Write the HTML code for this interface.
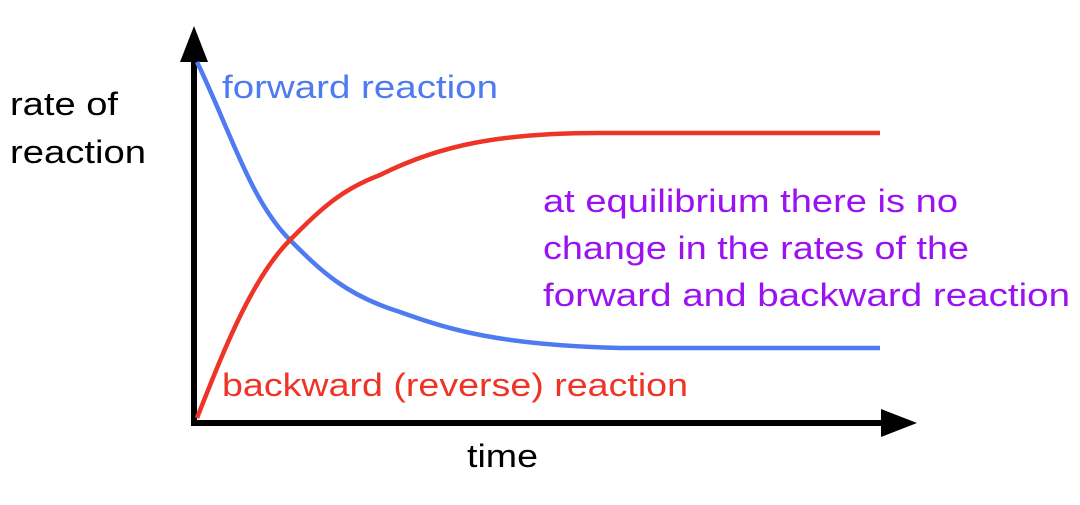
<!DOCTYPE html>
<html><head><style>
body{margin:0;width:1080px;height:500px;background:#fff;overflow:hidden}
</style></head><body>
<svg width="1080" height="500" xmlns="http://www.w3.org/2000/svg" font-family="Liberation Sans, sans-serif">
<line x1="194" y1="55" x2="194" y2="426" stroke="#000" stroke-width="6"/>
<line x1="191" y1="423" x2="885" y2="423" stroke="#000" stroke-width="6"/>
<polygon points="194,26 180,62 208,62" fill="#000"/>
<polygon points="917,423 881,409 881,437" fill="#000"/>
<path d="M197,62 C230,130 250,200 290,240 C320,270 345,295 400,312 C450,330 500,345 620,348 L880,348" fill="none" stroke="#4f7bf0" stroke-width="4.5"/>
<path d="M197,418 C220,360 250,280 290,240 C320,210 340,190 380,175 C440,145 500,133 600,133 L880,133" fill="none" stroke="#ee3327" stroke-width="4.5"/>
<g font-size="32" lengthAdjust="spacingAndGlyphs">
<text x="10" y="115" fill="#000" textLength="108" lengthAdjust="spacingAndGlyphs">rate of</text>
<text x="10" y="163" fill="#000" textLength="136" lengthAdjust="spacingAndGlyphs">reaction</text>
<text x="222" y="98" fill="#4f7bf0" textLength="276" lengthAdjust="spacingAndGlyphs">forward reaction</text>
<text x="222" y="396" fill="#ee3327" textLength="466" lengthAdjust="spacingAndGlyphs">backward (reverse) reaction</text>
<text x="467" y="467" fill="#000" textLength="71" lengthAdjust="spacingAndGlyphs">time</text>
<g fill="#9b12f2">
<text x="543" y="212" textLength="415" lengthAdjust="spacingAndGlyphs">at equilibrium there is no</text>
<text x="543" y="259" textLength="426" lengthAdjust="spacingAndGlyphs">change in the rates of the</text>
<text x="543" y="306" textLength="527" lengthAdjust="spacingAndGlyphs">forward and backward reaction</text>
</g>
</g>
</svg>
</body></html>
